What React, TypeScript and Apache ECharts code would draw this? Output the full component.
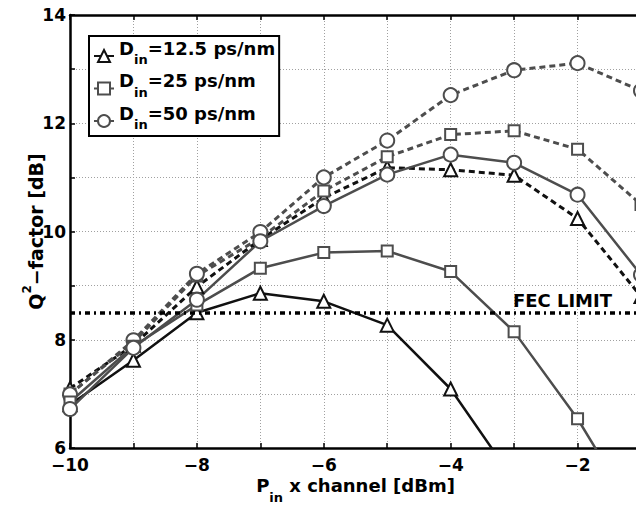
import React, { useEffect, useRef } from "react";
import * as echarts from "echarts";

// Launch power per channel [dBm]
const powerIn = [-10, -9, -8, -7, -6, -5, -4, -3, -2, -1];

// Q² factor [dB], solid curves
const q125Solid = [6.8, 7.62, 8.5, 8.86, 8.71, 8.27, 7.09, 5.4];
const q25Solid = [6.85, 7.88, 8.64, 9.32, 9.61, 9.64, 9.26, 8.15, 6.54, 4.61];
const q50Solid = [6.72, 7.85, 8.74, 9.82, 10.47, 11.05, 11.42, 11.27, 10.68, 9.2];

// Q² factor [dB], dashed curves
const q125Dashed = [7.1, 7.9, 8.98, 9.85, 10.62, 11.18, 11.14, 11.04, 10.24, 8.8];
const q25Dashed = [7.0, 7.95, 9.18, 9.88, 10.75, 11.38, 11.79, 11.86, 11.52, 10.5];
const q50Dashed = [6.99, 7.99, 9.22, 9.99, 11.0, 11.68, 12.52, 12.98, 13.11, 12.6];

const legendNames = ["12.5 ps/nm", "25 ps/nm", "50 ps/nm"];
const FEC_LIMIT = 8.5;

const FONT = "DejaVu Sans";
const BLACK = "#111111";
const GRAY = "#4d4d4d";

const pairs = (ys: number[]) => ys.map((y, i) => [powerIn[i], y]);

const fmtTick = (v: number) => {
  if (Math.round(v) % 2 !== 0) return "";
  return v < 0 ? "\u2212" + Math.abs(v) : String(v);
};

function makeSeries(
  name: string,
  ys: number[],
  color: string,
  symbol: string,
  size: number,
  dashed: boolean
) {
  return {
    type: "line",
    name,
    data: pairs(ys),
    symbol,
    symbolSize: size,
    showAllSymbol: true,
    clip: true,
    lineStyle: {
      color,
      width: dashed ? 3 : 2.5,
      type: dashed ? [6, 4] : "solid",
    },
    itemStyle: { color, borderColor: color, borderWidth: 2.2 },
    emphasis: { disabled: true },
  } as any;
}

export default function App() {
  const ref = useRef<HTMLDivElement>(null);

  useEffect(() => {
    if (!ref.current) return;
    const chart = echarts.init(ref.current, undefined, { renderer: "svg" });

    const tickLabel = {
      fontFamily: FONT,
      fontWeight: "bold" as const,
      fontSize: 17,
      color: "#000",
    };
    const gridLine = { show: true, lineStyle: { color: "#a0a0a0", width: 1, type: [1, 2] } };
    const axisLine = { show: true, onZero: false, lineStyle: { color: "#000", width: 2.5 } };
    const axisTick = { show: true, inside: true, length: 5, lineStyle: { color: "#000", width: 1.5 } };

    const fec = {
      silent: true,
      symbol: "none",
      data: [{ yAxis: FEC_LIMIT }],
      lineStyle: { color: "#000", width: 3.5, type: [5, 4, 2, 4] },
      label: {
        show: true,
        formatter: "FEC LIMIT",
        position: "insideEndTop",
        distance: 3,
        padding: [0, 26, 0, 0],
        color: "#000",
        fontFamily: FONT,
        fontWeight: "bold",
        fontSize: 18,
      },
    };

    const s125 = makeSeries(legendNames[0], q125Solid, BLACK, "emptyTriangle", 13, false);
    s125.markLine = fec;

    chart.setOption({
      animation: false,
      backgroundColor: "#fff",
      grid: {
        left: 70,
        top: 15,
        right: -5,
        bottom: 65,
        containLabel: false,
        outerBoundsMode: "none",
      },
      legend: {
        data: legendNames,
        orient: "vertical",
        left: 89,
        top: 36,
        padding: [3, 4, 5, 4],
        itemGap: 5.5,
        itemWidth: 20,
        itemHeight: 15,
        selectedMode: false,
        backgroundColor: "#fff",
        borderColor: "#000",
        borderWidth: 2,
        borderRadius: 0,
        formatter: (n: string) => `{d|D}{s|in}{d|=${n}}`,
        textStyle: {
          color: "#000",
          fontFamily: FONT,
          fontWeight: "bold",
          fontSize: 18,
          rich: {
            d: {
              fontFamily: FONT,
              fontWeight: "bold",
              fontSize: 18,
              color: "#000",
              verticalAlign: "top",
              padding: [0, 0, 16, 0],
            },
            s: {
              fontFamily: FONT,
              fontWeight: "bold",
              fontSize: 13,
              color: "#000",
              verticalAlign: "top",
              padding: [14, 0, 0, 0],
            },
          },
        },
      },
      xAxis: [
        {
          type: "value",
          min: -10,
          max: -1,
          interval: 1,
          axisLine,
          axisTick,
          axisLabel: { ...tickLabel, margin: 8, formatter: fmtTick },
          splitLine: gridLine,
          name: "{b|P}{s|in}{b| x channel [dBm]}",
          nameLocation: "middle",
          nameGap: 28,
          nameMoveOverlap: false,
          nameTextStyle: {
            rich: {
              b: {
                fontFamily: FONT,
                fontWeight: "bold",
                fontSize: 18,
                color: "#000",
                verticalAlign: "top",
                padding: [0, 0, 14, 0],
              },
              s: {
                fontFamily: FONT,
                fontWeight: "bold",
                fontSize: 13,
                color: "#000",
                verticalAlign: "top",
                padding: [15, 0, 0, 0],
              },
            },
          },
        },
        {
          type: "value",
          position: "top",
          min: -10,
          max: -1,
          interval: 1,
          axisLine,
          axisTick,
          axisLabel: { show: false },
          splitLine: { show: false },
        },
      ],
      yAxis: [
        {
          type: "value",
          min: 6,
          max: 14,
          interval: 1,
          axisLine,
          axisTick,
          axisLabel: { ...tickLabel, margin: 4, formatter: fmtTick },
          splitLine: gridLine,
          name: "{b|Q}{p|2}{b|\u2212factor [dB]}",
          nameLocation: "middle",
          nameRotate: 90,
          nameGap: 25,
          nameMoveOverlap: false,
          nameTextStyle: {
            rich: {
              b: {
                fontFamily: FONT,
                fontWeight: "bold",
                fontSize: 19,
                color: "#000",
                verticalAlign: "top",
                padding: [5, 0, 0, 0],
              },
              p: {
                fontFamily: FONT,
                fontWeight: "bold",
                fontSize: 12,
                color: "#000",
                verticalAlign: "top",
              },
            },
          },
        },
        {
          type: "value",
          position: "right",
          min: 6,
          max: 14,
          interval: 1,
          axisLine,
          axisTick,
          axisLabel: { show: false },
          splitLine: { show: false },
        },
      ],
      series: [
        makeSeries("12.5 ps/nm, dashed", q125Dashed, BLACK, "emptyTriangle", 13, true),
        makeSeries("25 ps/nm, dashed", q25Dashed, GRAY, "emptyRect", 11, true),
        makeSeries("50 ps/nm, dashed", q50Dashed, GRAY, "emptyCircle", 14, true),
        s125,
        makeSeries(legendNames[1], q25Solid, GRAY, "emptyRect", 11, false),
        makeSeries(legendNames[2], q50Solid, GRAY, "emptyCircle", 14, false),
      ],
    });

    return () => chart.dispose();
  }, []);

  return (
    <div
      ref={ref}
      style={{ position: "fixed", left: 0, top: 0, width: 636, height: 513, background: "#fff" }}
    />
  );
}
